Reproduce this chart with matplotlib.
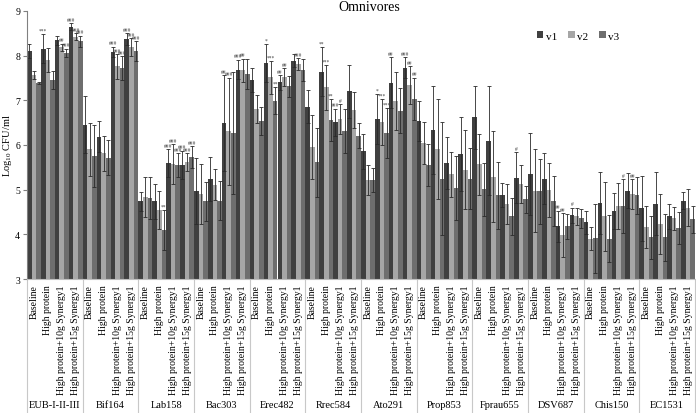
import numpy as np
import matplotlib.pyplot as plt
from matplotlib.transforms import blended_transform_factory

plt.rcParams['font.family'] = ['Liberation Serif', 'DejaVu Serif']

groups = ['EUB-I-II-III', 'Bif164', 'Lab158', 'Bac303', 'Erec482', 'Rrec584',
          'Ato291', 'Prop853', 'Fprau655', 'DSV687', 'Chis150', 'EC1531']
conditions = ['Baseline', 'High protein', 'High protein+10g Synergy1', 'High protein+15g Synergy1']

# mean log10 CFU/ml, 4 conditions per group
v1 = [8.10, 8.16, 8.35, 8.65,  6.45, 6.19, 8.09, 8.37,  4.74, 4.74, 5.60, 5.55,
      4.98, 5.24, 6.49, 7.69,  7.45, 7.84, 7.40, 7.89,  6.86, 7.64, 6.51, 7.20,
      5.86, 6.58, 7.39, 7.73,  6.54, 6.34, 5.59, 5.80,  6.62, 6.09, 4.88, 5.27,
      5.35, 5.24, 4.18, 4.43,  4.27, 4.70, 4.53, 4.98,  4.58, 4.69, 4.40, 4.75]
v2 = [7.57, 7.90, 8.19, 8.42,  5.90, 5.81, 7.76, 8.19,  4.83, 4.55, 5.57, 5.61,
      4.90, 5.11, 6.31, 7.67,  6.81, 7.52, 7.52, 7.81,  5.96, 7.29, 6.58, 6.78,
      5.22, 6.51, 6.99, 7.34,  6.04, 5.91, 5.34, 5.45,  5.57, 5.29, 4.68, 5.13,
      4.98, 4.99, 3.99, 4.40,  3.90, 4.40, 4.64, 4.90,  4.16, 4.23, 4.36, 4.60]
v3 = [7.39, 7.46, 8.06, 8.32,  5.76, 5.72, 7.72, 8.11,  4.81, 4.10, 5.55, 5.73,
      4.74, 4.75, 6.27, 7.59,  6.54, 6.99, 7.31, 7.68,  5.61, 6.56, 6.32, 6.21,
      5.21, 6.27, 6.77, 7.04,  5.55, 5.25, 5.04, 5.25,  5.01, 4.88, 4.40, 4.78,
      4.96, 4.74, 4.18, 4.36,  3.91, 3.90, 4.64, 4.87,  3.93, 3.93, 4.14, 4.34]

# standard deviations
e1 = [0.16, 0.33, 0.10, 0.08,  0.64, 0.34, 0.11, 0.13,  0.21, 0.39, 0.31, 0.32,
      0.74, 0.50, 1.08, 0.22,  0.27, 0.42, 0.17, 0.15,  0.37, 0.55, 0.30, 0.60,
      0.39, 0.56, 0.57, 0.23,  0.44, 0.99, 0.58, 0.82,  0.71, 1.22, 0.26, 0.57,
      0.91, 0.57, 0.35, 0.17,  0.26, 0.69, 0.40, 0.39,  0.72, 0.70, 0.28, 0.19]
e2 = [0.09, 0.27, 0.08, 0.08,  0.59, 0.39, 0.28, 0.20,  0.45, 0.43, 0.45, 0.20,
      0.67, 0.35, 1.20, 0.26,  0.31, 0.37, 0.20, 0.13,  0.72, 0.51, 0.34, 0.40,
      0.33, 0.52, 0.65, 0.42,  0.47, 1.13, 0.50, 0.89,  0.68, 1.02, 0.45, 0.42,
      0.93, 0.60, 0.49, 0.20,  0.26, 0.78, 0.51, 0.34,  0.47, 0.67, 0.26, 0.41]
e3 = [0.02, 0.20, 0.10, 0.13,  0.69, 0.40, 0.27, 0.22,  0.47, 0.45, 0.27, 0.24,
      0.44, 0.44, 1.36, 0.34,  0.32, 0.30, 0.24, 0.25,  0.77, 0.47, 0.49, 0.28,
      0.27, 0.56, 0.51, 0.47,  0.47, 1.26, 0.72, 0.68,  0.59, 0.75, 0.41, 0.31,
      0.73, 0.56, 0.28, 0.21,  0.77, 0.53, 0.60, 0.42,  0.49, 0.53, 0.35, 0.30]

# significance marks: (bar index, series, text)
marks = [(1, 0, '***'), (2, 1, '##'), (2, 2, '###'), (3, 0, '###'), (3, 1, '###'), (3, 2, '###'),
         (6, 0, '###'), (6, 1, '###'), (6, 2, '###'), (7, 0, '###'), (7, 1, '###'), (7, 2, '###'),
         (9, 2, '**'), (10, 0, '###'), (10, 1, '###'), (10, 2, '###'),
         (11, 0, '###'), (11, 1, '###'), (11, 2, '###'),
         (14, 0, '##'), (14, 1, '###'), (15, 0, '###'), (15, 1, '##'),
         (17, 0, '*'), (17, 1, '***'), (17, 2, '**'), (18, 0, '##'), (18, 1, '##'), (19, 1, '###'),
         (21, 0, '**'), (21, 1, '***'), (21, 2, '**'), (22, 0, '###'), (22, 1, '#'),
         (25, 0, '*'), (25, 1, '***'), (25, 2, '***'), (26, 0, '##'),
         (27, 0, '###'), (27, 1, '##'), (27, 2, '##'),
         (35, 0, '#'), (38, 0, '##'), (38, 1, '##'), (39, 0, '#'),
         (42, 2, '#'), (43, 1, '##')]

fig = plt.figure(figsize=(6.96, 4.14), dpi=100)
ax = fig.add_axes([27 / 696, 1 - 280 / 414, 668 / 696, 268 / 414])

x = np.arange(len(v1))
w = 1 / 3
colors = ['#404040', '#a6a6a6', '#6e6e6e']
series = [v1, v2, v3]
errs = [e1, e2, e3]
for k in range(3):
    ax.bar(x + (k - 1) * w, series[k], w, color=colors[k], label='v%d' % (k + 1),
           yerr=errs[k], error_kw=dict(ecolor='#2a2a2a', elinewidth=0.6, capsize=1.6, capthick=0.6))

for i, k, txt in marks:
    top = series[k][i] + errs[k][i]
    ax.text(i + (k - 1) * w, top + 0.03, txt, ha='center', va='bottom', fontsize=4, color='#404040')

ax.set_xlim(-0.5, len(v1) - 0.5)
ax.set_ylim(3, 9)
ax.set_yticks(range(3, 10))
ax.tick_params(axis='y', labelsize=7, length=3, color='#808080', pad=2)
ax.set_xticks(x)
ax.set_xticklabels(conditions * len(groups), rotation=90, fontsize=7, va='top')
ax.tick_params(axis='x', length=0, pad=4)
for s in ['top', 'right']:
    ax.spines[s].set_visible(False)
ax.spines['left'].set_color('#808080')
ax.spines['bottom'].set_color('#bfbfbf')

tr = blended_transform_factory(ax.transData, ax.transAxes)
for g in range(len(groups) + 1):
    ax.plot([g * 4 - 0.5] * 2, [0, -0.5], transform=tr, color='#c8c8c8', lw=0.8, clip_on=False)
for g, name in enumerate(groups):
    ax.text(g * 4 + 1.5, -0.467, name, transform=tr, ha='center', va='center', fontsize=7.5)

ax.set_ylabel('Log$_{\\mathregular{10}}$ CFU/ml', fontsize=7.5)
ax.yaxis.set_label_coords(-0.019, 0.5)
fig.text(0.53, 0.983, 'Omnivores', ha='center', va='center', fontsize=10)
fig.legend(loc='center', bbox_to_anchor=(578 / 696, 1 - 37 / 414), ncol=3, frameon=False,
           fontsize=8, handlelength=0.6, handleheight=0.6, handletextpad=0.2, columnspacing=1.0)

fig.savefig('out.png', dpi=100)
